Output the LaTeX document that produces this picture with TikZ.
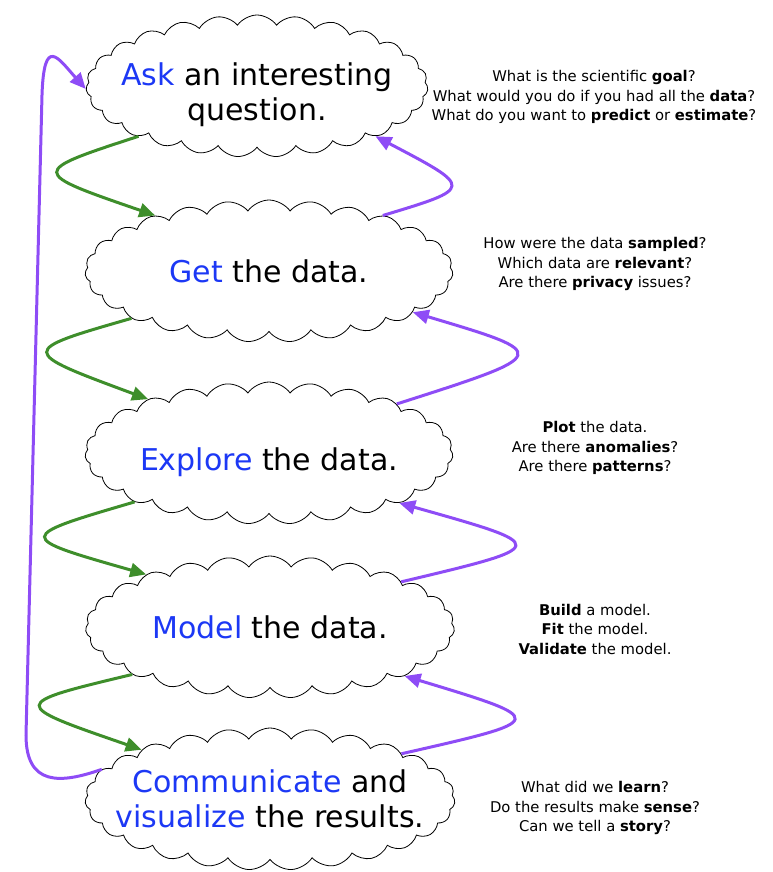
\documentclass[tikz,border=0pt]{standalone}
\usepackage{fontspec}
\setmainfont{DejaVu Sans}
\usetikzlibrary{shapes.symbols,arrows.meta}
\definecolor{kwblue}{RGB}{28,56,245}
\definecolor{arrgreen}{RGB}{62,142,43}
\definecolor{arrpurple}{RGB}{142,76,246}
\newcommand\kw[1]{\textcolor{kwblue}{#1}}
\begin{document}
\begin{tikzpicture}[x=1pt,y=1pt,
  stage/.style={cloud, draw, line width=0.8pt, fill=white, cloud puffs=27, cloud puff arc=110,
    cloud ignores aspect, minimum width=#1, minimum height=142pt, inner sep=0pt,
    align=center, font=\fontsize{30}{35}\selectfont},
  note/.style={align=center, inner sep=0pt, font=\fontsize{14.8}{19.5}\selectfont},
  greenarr/.style={draw=arrgreen, line width=3pt, -{Triangle[length=16pt,width=14pt]}},
  purplearr/.style={draw=arrpurple, line width=3pt, -{Triangle[length=16pt,width=14pt]}}]
\useasboundingbox (0,0) rectangle (772,-872);

\node[stage=342pt, inner xsep=-30pt, text height=76pt] (ask) at (257,-86) {\kw{Ask} an interesting\\question.};
\node[stage=368pt] (get) at (269,-271) {\kw{Get} the data.};
\node[stage=368pt, text height=41pt] (explore) at (269,-453) {\kw{Explore} the data.};
\node[stage=369pt] (model) at (270,-627) {\kw{Model} the data.};
\node[stage=370pt, inner xsep=-40pt] (comm) at (270,-799) {\kw{Communicate} and\\\kw{visualize} the results.};

\node[note] (n1) at (594,-97) {What is the scientific \textbf{goal}?\\What would you do if you had all the \textbf{data}?\\What do you want to \textbf{predict} or \textbf{estimate}?};
\node[note] (n2) at (595,-264) {How were the data \textbf{sampled}?\\Which data are \textbf{relevant}?\\Are there \textbf{privacy} issues?};
\node[note] (n3) at (595,-448) {\textbf{Plot} the data.\\Are there \textbf{anomalies}?\\Are there \textbf{patterns}?};
\node[note] (n4) at (595,-629) {\textbf{Build} a model.\\\textbf{Fit} the model.\\\textbf{Validate} the model.};
\node[note] (n5) at (595,-808) {What did we \textbf{learn}?\\Do the results make \textbf{sense}?\\Can we tell a \textbf{story}?};

\draw[greenarr] (ask.203) .. controls (29,-172) and (29,-172) .. (get.154);
\draw[greenarr] (get.199) .. controls (18,-351) and (18,-351) .. (explore.156);
\draw[greenarr] (explore.200) .. controls (15,-537) and (15,-537) .. (model.157);
\draw[greenarr] (model.199) .. controls (9,-704) and (9,-704) .. (comm.159);

\draw[purplearr] (get.26) .. controls (474,-188) and (474,-188) .. (ask.337);
\draw[purplearr] (explore.21) .. controls (553,-354) and (553,-354) .. (get.344);
\draw[purplearr] (model.19) .. controls (552,-546) and (552,-546) .. (explore.339);
\draw[purplearr] (comm.19) .. controls (550,-720) and (550,-720) .. (model.340);

\coordinate (lb) at (26,-735);
\coordinate (lt) at (42,-95);
\draw[purplearr] (comm.170) .. controls (60,-784) and (26,-786) .. (lb) -- (lt)
  .. controls (44,-35) and (58,-58) .. (ask.181);
\end{tikzpicture}
\end{document}
